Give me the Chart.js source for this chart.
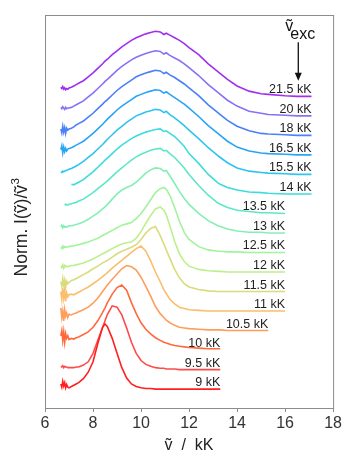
<!DOCTYPE html>
<html>
<head>
<meta charset="utf-8">
<script src="https://cdn.jsdelivr.net/npm/chart.js@4.4.0/dist/chart.umd.min.js"></script>
<style>
  html, body { margin: 0; padding: 0; background: #fff; }
  #spectra { display: block; }
</style>
</head>
<body>
<canvas id="spectra" width="344" height="455"></canvas>
<script>
// wavenumber grid (kK) shared by all spectra
var waveNumbers = [6.66, 6.7, 6.74, 6.78, 6.82, 6.86, 6.9, 6.95, 7.0, 7.1,
	7.2, 7.3, 7.4, 7.6, 7.8, 8.0, 8.2, 8.4, 8.5, 8.6,
	8.8, 9.0, 9.2, 9.4, 9.6, 9.8, 10.0, 10.2, 10.4, 10.6,
	10.8, 10.95, 11.05, 11.2, 11.4, 11.6, 11.8, 12.0, 12.4, 12.8,
	13.2, 13.3, 13.6, 14.0, 14.5, 15.0, 15.3, 16.0, 16.5, 17.1];

// excitation energies, bottom to top
var excitation = ["9", "9.5", "10", "10.5", "11", "11.5", "12", "12.5", "13", "13.5", "14", "15.5", "16.5", "18", "20", "21.5"];

// normalised emission, one array per excitation (null = not measured)
var exc9 = [.08,.03,.12,.05,.10,.02,.07,.03,.02,.04, .06,.08,.10,.16,.26,.42,.70,.95,1.0,.96,
	.78,.55,.33,.17,.08,.04,.02,.01,.01,0, 0,0,0,0,0,0,0,0,0,0, 0,0,null,null,null,null,null,null,null,null];
var exc9_5 = [.05,.04,.06,.03,.05,.04,.04,.03,.03,.03, .03,.04,.04,.07,.12,.25,.45,.65,.75,.85,
	.98,.96,.84,.64,.42,.25,.14,.08,.05,.03, .02,.02,.01,.01,.01,0,0,0,0,0, 0,0,null,null,null,null,null,null,null,null];
var exc10 = [.22,.30,.15,.28,.12,.25,.18,.22,.16,.18, .17,.19,.20,.24,.28,.35,.45,.58,.65,.73,
	.86,.96,1.0,.92,.73,.56,.42,.32,.25,.19, .15,.12,.11,.09,.07,.06,.05,.04,.03,.02, .02,.02,null,null,null,null,null,null,null,null];
var exc10_5 = [.35,.20,.30,.15,.32,.22,.27,.20,.25,.24, .26,.27,.29,.32,.36,.42,.50,.60,.65,.70,
	.79,.87,.95,1.0,.98,.93,.82,.68,.53,.37, .26,.20,.16,.12,.08,.05,.04,.03,.02,.01, .01,.01,0,0,0,0,0,null,null,null];
var exc11 = [.30,.18,.35,.20,.32,.15,.28,.22,.25,.26, .25,.27,.29,.33,.37,.42,.47,.53,.56,.59,
	.66,.72,.78,.84,.90,.96,1.0,.92,.77,.60, .45,.33,.27,.18,.11,.06,.04,.02,.01,0, 0,0,0,0,0,0,0,0,null,null];
var exc11_5 = [.15,.08,.20,.10,.18,.07,.16,.12,.14,.17, .18,.20,.22,.26,.30,.35,.39,.44,.46,.48,
	.53,.58,.62,.65,.68,.72,.80,.90,.97,1.0, .86,.73,.64,.51,.34,.21,.12,.07,.03,.01, 0,0,0,0,0,0,0,0,null,null];
var exc12 = [.09,.07,.11,.06,.10,.08,.09,.08,.09,.10, .10,.11,.12,.14,.17,.20,.24,.28,.30,.32,
	.36,.40,.43,.45,.46,.52,.62,.75,.87,.97, 1.0,.95,.88,.71,.47,.28,.16,.09,.04,.02, .01,.01,0,0,0,0,0,0,null,null];
var exc12_5 = [.08,.06,.10,.07,.09,.08,.08,.09,.09,.10, .10,.11,.12,.14,.16,.19,.22,.26,.28,.30,
	.34,.38,.42,.44,.46,.52,.60,.70,.81,.92, .98,1.0,.97,.88,.69,.48,.31,.20,.09,.04, .02,.02,.01,.01,0,0,0,0,null,null];
var exc13 = [.09,.12,.08,.11,.09,.10,.09,.10,.11,.11, .12,.13,.14,.17,.21,.26,.31,.37,.40,.44,
	.52,.60,.66,.70,.73,.78,.85,.92,.97,1.0, .99,.95,.96,.88,.76,.64,.53,.44,.30,.19, .11,.10,.06,.03,.01,.01,0,0,null,null];
var exc13_5 = [null,null,null,null,.15,.13,.14,.13,.14,.15, .16,.17,.19,.22,.27,.32,.38,.44,.47,.50,
	.57,.64,.70,.76,.82,.87,.91,.94,.97,.99, 1.0,.96,.97,.92,.86,.78,.70,.60,.43,.28, .16,.14,.09,.05,.03,.01,.01,0,null,null];
var exc14 = [null,null,null,null,null,null,null,null,null,.15, .14,.16,.18,.22,.28,.34,.41,.48,.52,.55,
	.62,.69,.75,.80,.85,.89,.92,.95,.97,.99, 1.0,.96,.97,.93,.88,.81,.73,.62,.47,.30, .17,.15,.10,.06,.03,.02,.01,0,0,0];
var exc15_5 = [.04,.03,.05,.04,.05,.06,.06,.07,.08,.09, .11,.13,.15,.20,.26,.32,.39,.46,.50,.54,
	.61,.68,.74,.80,.85,.90,.93,.96,.98,1.0, .99,.95,.97,.92,.87,.81,.75,.68,.55,.41, .29,.26,.18,.10,.05,.03,.02,.01,0,0];
var exc16_5 = [.08,.14,.03,.12,.05,.10,.06,.09,.10,.11, .13,.15,.17,.21,.27,.33,.40,.47,.51,.55,
	.62,.69,.75,.80,.85,.90,.93,.96,.98,1.0, .99,.95,.97,.93,.88,.83,.78,.72,.59,.45, .33,.30,.21,.12,.06,.03,.02,.01,0,0];
var exc18 = [.10,.04,.14,.05,.12,.03,.11,.08,.10,.11, .13,.16,.18,.22,.28,.34,.41,.48,.52,.55,
	.62,.69,.75,.80,.85,.90,.93,.96,.98,1.0, .99,.95,.97,.93,.89,.84,.79,.73,.61,.47, .35,.32,.23,.14,.07,.03,.02,.01,0,0];
var exc20 = [.13,.11,.14,.12,.10,.13,.11,.12,.12,.13, .15,.17,.19,.23,.29,.35,.42,.49,.53,.56,
	.63,.70,.76,.81,.86,.90,.93,.96,.98,1.0, .99,.95,.97,.93,.89,.85,.80,.74,.62,.48, .36,.33,.24,.15,.07,.04,.02,.01,0,0];
var exc21_5 = [.14,.12,.15,.11,.13,.10,.12,.11,.13,.14, .16,.18,.20,.24,.30,.36,.43,.50,.54,.57,
	.64,.70,.76,.81,.86,.90,.93,.96,.98,1.0, .99,.95,.97,.94,.90,.86,.81,.75,.64,.50, .38,.35,.26,.16,.08,.04,.03,.01,0,0];

var spectra = [exc9, exc9_5, exc10, exc10_5, exc11, exc11_5, exc12, exc12_5, exc13, exc13_5,
	exc14, exc15_5, exc16_5, exc18, exc20, exc21_5];

var colours = ["#ff1f1f", "#ff4a4a", "#ff6a3c", "#ff9d5c", "#fbbd6e", "#d9dc7c", "#bdef8c", "#a3f29e",
	"#84efb4", "#5ee6c8", "#3edcdc", "#2fc4ee", "#2aa4f4", "#4a80f8", "#8a70f6", "#a030f0"];

var stackStep = 0.3;   // vertical offset between spectra

var datasets = spectra.map(function(vals, i) {
	var pts = [];
	for (var j = 0; j < waveNumbers.length; j++) {
		if (vals[j] !== null) pts.push({ x: waveNumbers[j], y: vals[j] + i * stackStep });
	}
	return {
		label: excitation[i] + " kK",
		data: pts,
		borderColor: colours[i],
		borderWidth: 1.6,
		pointRadius: 0,
		fill: false,
		tension: 0
	};
});

var fontFamily = '"Liberation Sans", Arial, sans-serif';

var decorations = {
	id: "decorations",
	afterDatasetsDraw: function(chart) {
		var ctx = chart.ctx, area = chart.chartArea;
		var xs = chart.scales.x, ys = chart.scales.y;
		ctx.save();

		// frame
		ctx.strokeStyle = "#8c8c8c";
		ctx.lineWidth = 1;
		ctx.strokeRect(area.left + 0.5, area.top + 0.5, area.right - area.left, area.bottom - area.top);

		// excitation labels at the end of each trace
		ctx.font = "12.5px " + fontFamily;
		ctx.fillStyle = "#222";
		ctx.textAlign = "right";
		ctx.textBaseline = "alphabetic";
		chart.data.datasets.forEach(function(ds, i) {
			var last = ds.data[ds.data.length - 1];
			ctx.fillText(ds.label, xs.getPixelForValue(last.x), ys.getPixelForValue(i * stackStep) - 3);
		});

		// ṽexc arrow
		var ax = xs.getPixelForValue(16.55);
		var top = ys.getPixelForValue(5.33), bot = ys.getPixelForValue(4.74);
		ctx.strokeStyle = "#111";
		ctx.lineWidth = 1.3;
		ctx.beginPath();
		ctx.moveTo(ax, top);
		ctx.lineTo(ax, bot - 7);
		ctx.stroke();
		ctx.fillStyle = "#111";
		ctx.beginPath();
		ctx.moveTo(ax - 3.5, bot - 8);
		ctx.lineTo(ax + 3.5, bot - 8);
		ctx.lineTo(ax, bot);
		ctx.closePath();
		ctx.fill();

		ctx.textAlign = "left";
		ctx.font = "16px " + fontFamily;
		ctx.fillText("ṽ", ax - 13, top - 11);
		ctx.fillText("exc", ax - 8, top - 3);

		// y axis title, drawn by hand to place the superscript
		ctx.translate(22, (area.top + area.bottom) / 2 + 16);
		ctx.rotate(-Math.PI / 2);
		ctx.textBaseline = "middle";
		var main = "Norm. I(ṽ)/ṽ";
		ctx.font = "17.5px " + fontFamily;
		var w = ctx.measureText(main).width;
		ctx.font = "11.5px " + fontFamily;
		var w3 = ctx.measureText("3").width;
		var x0 = -(w + w3) / 2;
		ctx.fillStyle = "#222";
		ctx.font = "17.5px " + fontFamily;
		ctx.fillText(main, x0, 0);
		ctx.font = "11.5px " + fontFamily;
		ctx.fillText("3", x0 + w + 0.5, -6);

		ctx.restore();
	}
};

var chart = new Chart(document.getElementById("spectra"), {
	type: "line",
	data: { datasets: datasets },
	options: {
		responsive: false,
		animation: false,
		devicePixelRatio: 1,
		layout: { padding: { top: 15, right: 9, left: 0, bottom: 0 } },
		plugins: {
			legend: { display: false },
			tooltip: { enabled: false }
		},
		scales: {
			x: {
				type: "linear",
				min: 6,
				max: 18,
				afterFit: function(scale) { scale.height = 47; },
				ticks: { stepSize: 2, color: "#333", font: { family: fontFamily, size: 16 }, padding: 2, maxRotation: 0 },
				grid: { drawOnChartArea: false, drawTicks: true, tickLength: 4, color: "#8c8c8c" },
				border: { display: false },
				title: { display: true, text: "ṽ  /  kK", color: "#222", font: { family: fontFamily, size: 16 }, padding: { top: 0, bottom: 0 } }
			},
			y: {
				type: "linear",
				min: -0.29,
				max: 5.75,
				afterFit: function(scale) { scale.width = 45; },
				ticks: { display: false },
				grid: { display: false },
				border: { display: false },
				title: { display: false }
			}
		}
	},
	plugins: [decorations]
});
</script>
</body>
</html>
